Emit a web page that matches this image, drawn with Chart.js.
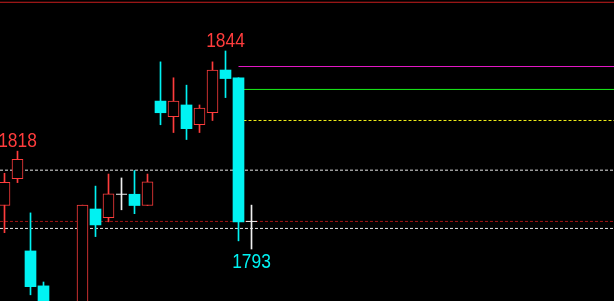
<!DOCTYPE html>
<html>
<head>
<meta charset="utf-8">
<script src="https://cdn.jsdelivr.net/npm/chart.js@4"></script>
<style>
  html, body { margin: 0; padding: 0; background: #000; overflow: hidden; }
  canvas { display: block; }
</style>
</head>
<body>
<canvas id="grafico" width="614" height="301"></canvas>
<script>
// velas (indice 0..19), precios
const aperturas = [1804.2, 1811.1, 1792.5, 1783.5, 1776.0, 1771.0, 1774.0, 1803.3, 1801.1, 1807.1, 1807.1, 1804.2, 1831.1, 1827.1, 1830.1, 1825.0, 1828.1, 1839.1, 1837.1, 1800.1];
const maximos  = [1812.5, 1818.2, 1802.3, 1784.5, 1779.0, 1777.0, 1804.3, 1809.2, 1812.3, 1811.3, 1813.2, 1812.3, 1841.2, 1837.1, 1835.2, 1830.1, 1841.2, 1844.0, 1837.1, 1804.3];
const minimos  = [1797.2, 1810.1, 1781.2, 1773.0, 1768.0, 1766.0, 1770.0, 1796.2, 1800.0, 1803.1, 1802.1, 1804.2, 1825.0, 1823.0, 1821.2, 1823.0, 1826.1, 1832.0, 1795.1, 1793.0];
const cierres  = [1810.2, 1816.1, 1783.3, 1776.0, 1771.0, 1773.0, 1804.3, 1799.2, 1807.2, 1807.1, 1804.2, 1810.3, 1828.1, 1831.1, 1824.0, 1829.3, 1839.1, 1836.9, 1800.0, 1800.1];

// niveles horizontales
const nivelTope = 1856.55;
const nivelResistencia = 1840.0;
const nivelMedio = 1834.1;
const nivelAmarillo = 1826.1;
const nivelSuperior = 1813.3;
const nivelRojo = 1800.1;
const nivelInferior = 1798.3;

// etiquetas de extremos: [indice vela, tipo]
const etiquetas = [[17, 'max'], [1, 'max'], [19, 'min']];

const ROJO = '#ff3c3c';
const CIAN = '#00f2f2';
const BLANCO = '#f0f0f0';

const indices = aperturas.map((_, i) => i);
const subidas = indices.filter(i => cierres[i] > aperturas[i]);
const bajadas = indices.filter(i => cierres[i] < aperturas[i]);
const dojis = indices.filter(i => cierres[i] === aperturas[i]);

function colorVela(i) {
    if (cierres[i] > aperturas[i]) return ROJO;
    if (cierres[i] < aperturas[i]) return CIAN;
    return BLANCO;
}

const xMin = -4.5 / 13, xMax = 609.5 / 13;

function linea(precio, desde, color, dash) {
    return {
        type: 'line',
        data: [{ x: desde, y: precio }, { x: xMax, y: precio }],
        borderColor: color,
        borderWidth: 1,
        borderDash: dash,
        pointRadius: 0,
        order: 5
    };
}

// texto algo estrecho, como la fuente del terminal
function textoEstrecho(ctx, texto, x, y) {
    ctx.save();
    ctx.translate(x, y);
    ctx.scale(0.87, 1);
    ctx.fillText(texto, 0, 0);
    ctx.restore();
}

const pluginEtiquetas = {
    id: 'etiquetas',
    afterDatasetsDraw(chart) {
        const ctx = chart.ctx;
        const sx = chart.scales.x, sy = chart.scales.y;
        ctx.save();
        ctx.font = '20px "Liberation Sans", sans-serif';
        ctx.textAlign = 'center';
        ctx.textBaseline = 'alphabetic';
        etiquetas.forEach(([i, tipo]) => {
            const x = sx.getPixelForValue(i);
            if (tipo === 'max') {
                ctx.fillStyle = ROJO;
                textoEstrecho(ctx, String(Math.round(maximos[i])), x, sy.getPixelForValue(maximos[i]) - 4);
            } else {
                ctx.fillStyle = CIAN;
                textoEstrecho(ctx, String(Math.round(minimos[i])), x, sy.getPixelForValue(minimos[i]) + 19);
            }
        });
        ctx.restore();
    }
};

new Chart(document.getElementById('grafico'), {
    type: 'bar',
    data: {
        datasets: [
            // mechas
            {
                data: indices.map(i => ({ x: i, y: [minimos[i], maximos[i]] })),
                backgroundColor: indices.map(colorVela),
                barThickness: 1,
                grouped: false,
                order: 3
            },
            // cuerpos alcistas (huecos)
            {
                data: subidas.map(i => ({ x: i, y: [aperturas[i], cierres[i]] })),
                backgroundColor: '#000',
                borderColor: ROJO,
                borderWidth: 1,
                borderSkipped: false,
                barThickness: 11,
                grouped: false,
                order: 1
            },
            // cuerpos bajistas (rellenos)
            {
                data: bajadas.map(i => ({ x: i, y: [cierres[i], aperturas[i]] })),
                backgroundColor: CIAN,
                barThickness: 11,
                grouped: false,
                order: 1
            },
            // dojis
            {
                type: 'line',
                data: dojis.map(i => ({ x: i, y: aperturas[i] })),
                showLine: false,
                pointStyle: 'line',
                pointRadius: 5.5,
                borderColor: BLANCO,
                borderWidth: 1,
                order: 0
            },
            linea(nivelTope, xMin, '#c81e1e', []),
            linea(nivelResistencia, 18, '#e619c8', []),
            linea(nivelMedio, 18, '#19f019', []),
            linea(nivelAmarillo, 18, '#f0f019', [3, 2]),
            linea(nivelSuperior, xMin, '#e6e6e6', [3, 2]),
            linea(nivelRojo, xMin, '#a01414', [3, 2]),
            linea(nivelInferior, xMin, '#e6e6e6', [3, 2])
        ]
    },
    options: {
        responsive: false,
        animation: false,
        events: [],
        layout: { padding: 0, autoPadding: false },
        plugins: { legend: { display: false }, tooltip: { enabled: false } },
        scales: {
            x: { type: 'linear', min: xMin, max: xMax, display: false, offset: false },
            y: { type: 'linear', min: 1779.606, max: 1857.136, display: false }
        }
    },
    plugins: [pluginEtiquetas]
});
</script>
</body>
</html>
